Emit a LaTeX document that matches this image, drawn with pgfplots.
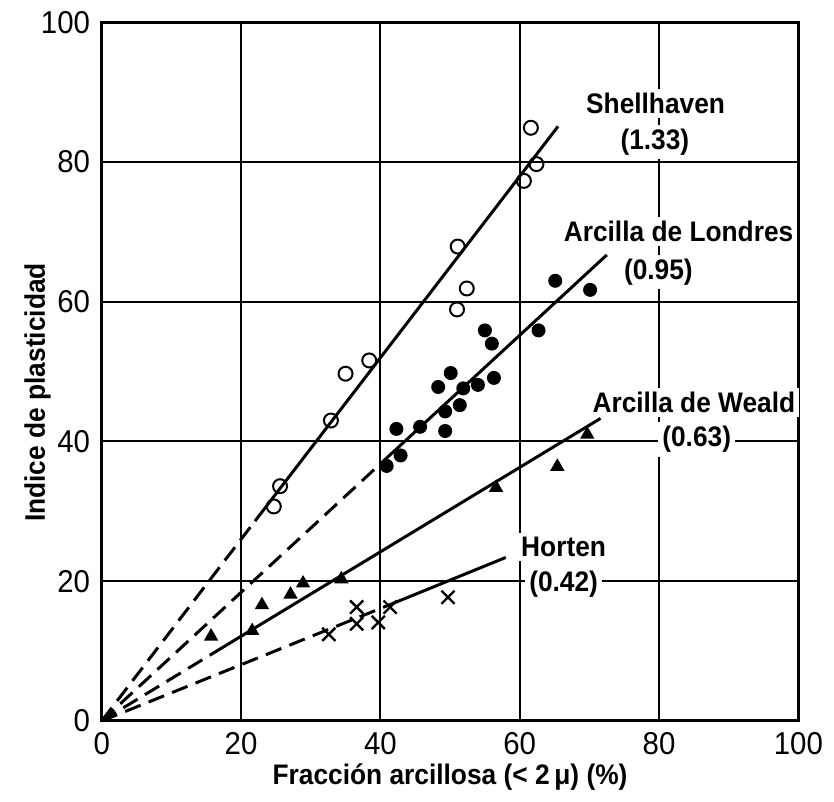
\documentclass[border=0pt]{standalone}
\usepackage{fontspec}
\setmainfont{Liberation Sans}[FakeStretch=0.93]
\usepackage{pgfplots}
\pgfplotsset{compat=1.18}

\begin{document}
\begin{tikzpicture}
\begin{axis}[
  scale only axis,
  width=209.4pt, height=210pt,
  xmin=0, xmax=100, ymin=0, ymax=100,
  xtick={0,20,...,100}, ytick={0,20,...,100},
  major tick length=0pt,
  grid=major,
  grid style={black, line width=0.6pt},
  axis line style={line width=0.9pt},
  clip=false,
  /pgf/number format/assume math mode=true,
  tick label style={font=\fontsize{9.5}{11}\selectfont},
  label style={font=\fontsize{8.5}{10}\selectfont\bfseries},
  xlabel={Fracción arcillosa (< 2\,μ) (\%)},
  ylabel={Indice de plasticidad},
  xlabel style={at={(rel axis cs:0.5,-0.08)}, anchor=center},
  ylabel style={at={(rel axis cs:-0.092,0.47)}, anchor=center},
]
% invisible frame for picture proportions
\path (rel axis cs:-0.146,-0.106) rectangle (rel axis cs:1.049,1.031);

% fitted lines
\addplot[black, line width=0.9pt, dash pattern=on 5pt off 2.6pt] coordinates {(0,0) (22,28.6)};
\addplot[black, line width=0.9pt] coordinates {(22,28.6) (65.5,85.1)};
\addplot[black, line width=0.9pt, dash pattern=on 5pt off 2.6pt] coordinates {(0,0) (40,36.8)};
\addplot[black, line width=0.9pt] coordinates {(40,36.8) (72.5,66.7)};
\addplot[black, line width=0.9pt, dash pattern=on 5pt off 2.6pt] coordinates {(0,0) (16,9.7)};
\addplot[black, line width=0.9pt] coordinates {(16,9.7) (71.6,43.3)};
\addplot[black, line width=0.9pt, dash pattern=on 5pt off 2.6pt] coordinates {(0,0) (42,16.9)};
\addplot[black, line width=0.9pt] coordinates {(42,16.9) (58,23.4)};

% Shellhaven
\addplot[only marks, mark=o, mark size=2.1pt, mark options={black, fill=white, line width=0.6pt}] coordinates {
 (61.6,84.9) (62.4,79.7) (60.6,77.3) (51.1,67.9) (52.4,61.9) (51.0,58.9)
 (38.4,51.6) (35.0,49.7) (32.9,43.0) (25.6,33.6) (24.7,30.7)};
% Arcilla de Londres
\addplot[only marks, mark=*, mark size=1.9pt, mark options={black, fill=black}] coordinates {
 (65.1,63.0) (70.1,61.7) (62.7,55.9) (55.0,55.9) (56.0,54.0) (50.1,49.8)
 (48.3,47.8) (51.9,47.6) (54.0,48.1) (56.3,49.1) (49.3,44.3) (51.4,45.2)
 (45.7,42.1) (42.3,41.8) (49.3,41.5) (42.9,38.0) (40.9,36.5)};
% Arcilla de Weald
\addplot[only marks, mark=triangle*, mark size=2.1pt, mark options={black, fill=black}] coordinates {
 (69.7,41.0) (65.4,36.4) (56.6,33.4) (34.4,20.3) (28.9,19.7) (27.1,18.1)
 (23.0,16.6) (21.6,12.9) (15.7,12.1)};
% Horten
\addplot[only marks, mark=x, mark size=2.8pt, mark options={black, line width=0.7pt}] coordinates {
 (32.6,12.4) (36.6,16.3) (36.6,13.9) (39.7,14.1) (41.4,16.3) (49.7,17.7)};

\begin{scope}[every node/.style={fill=white, inner sep=1.2pt, font=\fontsize{8.5}{10}\selectfont\bfseries}]
\node at (axis cs:79.5,88.4) {Shellhaven};
\node at (axis cs:79.4,82.9) {(1.33)};
\node at (axis cs:82.8,70.0) {Arcilla de Londres};
\node at (axis cs:79.9,64.3) {(0.95)};
\node at (axis cs:85.0,45.6) {Arcilla de Weald};
\node at (axis cs:85.4,40.3) {(0.63)};
\node at (axis cs:66.3,24.9) {Horten};
\node at (axis cs:66.3,19.6) {(0.42)};
\end{scope}
\end{axis}
\end{tikzpicture}
\end{document}
